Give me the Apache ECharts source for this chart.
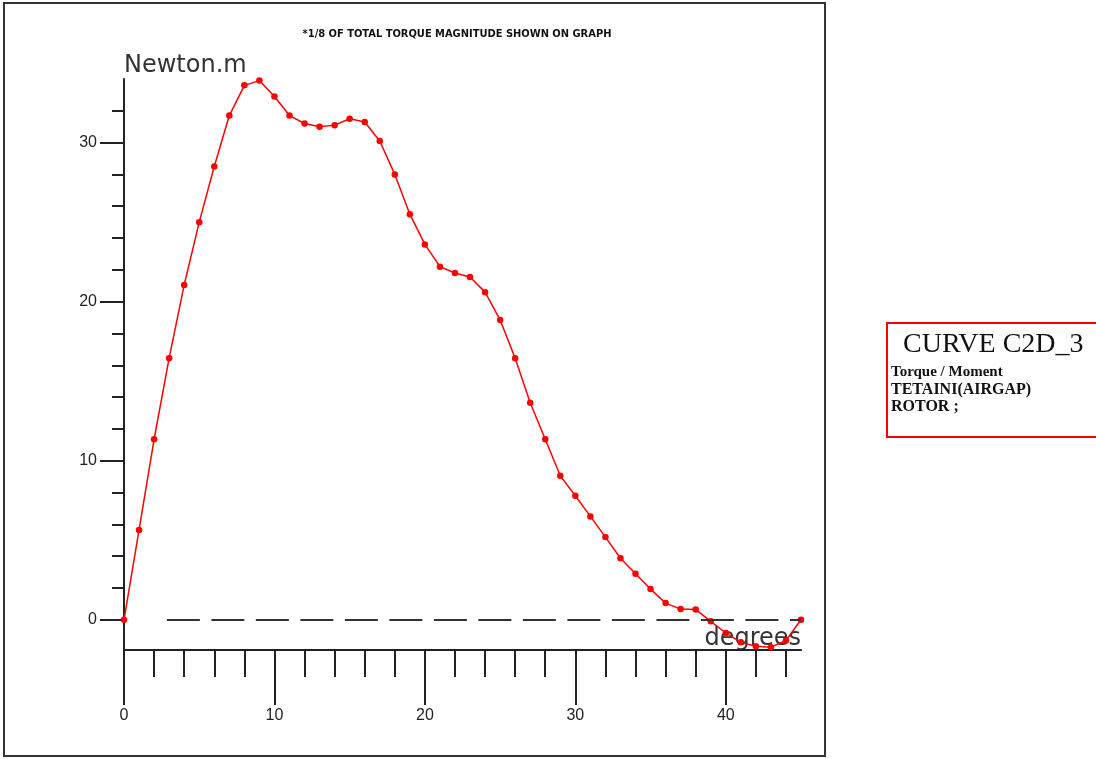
<!DOCTYPE html>
<html>
<head>
<meta charset="utf-8">
<script src="https://cdn.jsdelivr.net/npm/echarts@6/dist/echarts.min.js"></script>
<style>html,body{margin:0;padding:0;background:#fff;}#c{width:1096px;height:759px;}</style>
</head>
<body>
<div id="c"></div>
<script>
const DEGREES = [0,1,2,3,4,5,6,7,8,9,10,11,12,13,14,15,16,17,18,19,20,21,22,23,24,25,26,27,28,29,30,31,32,33,34,35,36,37,38,39,40,41,42,43,44,45];
const TORQUE = [0,5.65,11.35,16.45,21.05,25.0,28.5,31.7,33.6,33.9,32.9,31.7,31.2,31.0,31.1,31.5,31.3,30.1,28.0,25.5,23.6,22.2,21.8,21.55,20.6,18.85,16.45,13.65,11.35,9.05,7.8,6.5,5.2,3.87,2.9,1.93,1.05,0.67,0.65,-0.1,-0.83,-1.42,-1.67,-1.72,-1.3,0.0];
const X_MAJOR = [0,10,20,30,40];
const X_MINOR = [2,4,6,8,12,14,16,18,22,24,26,28,32,34,36,38,42,44];
const Y_MAJOR = [0,10,20,30];
const Y_MINOR = [2,4,6,8,12,14,16,18,22,24,26,28,32];
const TITLE = '*1/8 OF TOTAL TORQUE MAGNITUDE SHOWN ON GRAPH';
const LEGEND_TITLE = 'CURVE C2D_3';
const LEGEND_LINES = ['Torque / Moment','TETAINI(AIRGAP)','ROTOR ;'];

const AX = '#222';
const chart = echarts.init(document.getElementById('c'), null, {renderer:'canvas'});
const tickFont = {fontFamily:'Liberation Sans', fontSize:16, color:'#222'};
const option = {
  backgroundColor:'#fff',
  animation:false,
  title:{text:TITLE, left:452, top:24, textAlign:'center',
    textStyle:{fontFamily:'DejaVu Sans Condensed', fontWeight:'bold', fontSize:11, color:'#111'}},
  grid:{left:124, right:295, top:79, bottom:109, containLabel:false},
  xAxis:[
    {type:'value', min:0, max:45, position:'bottom',
     name:'degrees', nameLocation:'end', nameGap:0,
     nameTextStyle:{fontFamily:'DejaVu Sans', fontSize:24, color:'#333', align:'right', verticalAlign:'bottom', padding:[0,0,-1,0]},
     axisLine:{show:true, onZero:false, lineStyle:{color:AX, width:2}},
     axisTick:{show:true, customValues:X_MAJOR, length:55, lineStyle:{color:AX, width:2}},
     axisLabel:{show:true, customValues:X_MAJOR, margin:58, ...tickFont},
     splitLine:{show:false}},
    {type:'value', min:0, max:45, position:'bottom',
     axisLine:{show:false, onZero:false},
     axisTick:{show:true, customValues:X_MINOR, length:27, lineStyle:{color:AX, width:2}},
     axisLabel:{show:false},
     splitLine:{show:false}}
  ],
  yAxis:[
    {type:'value', min:-1.9, max:34, position:'left',
     name:'Newton.m', nameLocation:'end', nameGap:13,
     nameTextStyle:{fontFamily:'DejaVu Sans', fontSize:24, color:'#333', align:'left', verticalAlign:'middle'},
     axisLine:{show:true, onZero:false, lineStyle:{color:AX, width:2}},
     axisTick:{show:true, customValues:Y_MAJOR, length:24, lineStyle:{color:AX, width:2}},
     axisLabel:{show:true, customValues:Y_MAJOR, margin:27, ...tickFont},
     splitLine:{show:false}},
    {type:'value', min:-1.9, max:34, position:'left',
     axisLine:{show:false, onZero:false},
     axisTick:{show:true, customValues:Y_MINOR, length:12, lineStyle:{color:AX, width:2}},
     axisLabel:{show:false},
     splitLine:{show:false}}
  ],
  series:[{
    type:'line',
    xAxisIndex:0, yAxisIndex:0,
    data:DEGREES.map((d,i)=>[d,TORQUE[i]]),
    symbol:'circle', symbolSize:6.5, showSymbol:true,
    lineStyle:{color:'#ff0000', width:1.5},
    itemStyle:{color:'#ff0000'},
    z:3,
    markLine:{
      silent:true, symbol:'none', label:{show:false},
      lineStyle:{color:'#333', width:2, type:[33,11.5]},
      data:[[{coord:[2.85,0]},{coord:[45,0]}]]
    }
  }],
  graphic:[
    {type:'rect', shape:{x:4, y:3, width:821, height:753}, style:{fill:'none', stroke:'#333', lineWidth:2}, silent:true},
    {type:'rect', shape:{x:887, y:323, width:215, height:114}, style:{fill:'#fff', stroke:'#ff0000', lineWidth:2}, silent:true},
    {type:'text', left:903, top:331, style:{text:LEGEND_TITLE, font:'28px "Liberation Serif"', fill:'#111'}},
    {type:'text', left:891, top:365, style:{text:LEGEND_LINES[0], font:'bold 15px "Liberation Serif"', fill:'#111'}},
    {type:'text', left:891, top:382, style:{text:LEGEND_LINES[1], font:'bold 16px "Liberation Serif"', fill:'#111'}},
    {type:'text', left:891, top:399, style:{text:LEGEND_LINES[2], font:'bold 16px "Liberation Serif"', fill:'#111'}}
  ]
};
chart.setOption(option);
</script>
</body>
</html>
